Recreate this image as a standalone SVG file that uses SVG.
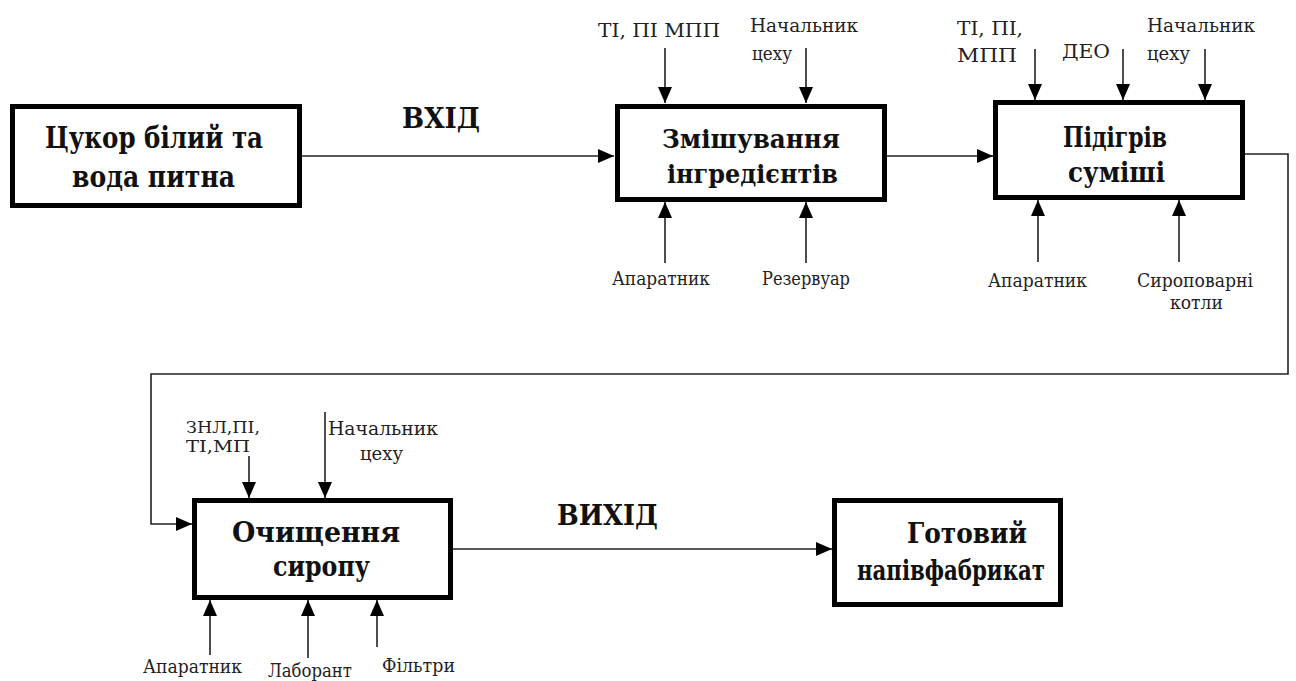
<svg xmlns="http://www.w3.org/2000/svg" width="1296" height="681" viewBox="0 0 1296 681">
<style>
text{font-family:"DejaVu Serif",serif;fill:#111}
.box{fill:#fff;stroke:#000;stroke-width:5}
.t30{font-weight:bold;font-size:30px}
.t27{font-weight:bold;font-size:27px}
.t26{font-weight:bold;font-size:26px}
.lbl{font-size:19px;fill:#222}
.sm{font-size:16px;fill:#222}
.ln{fill:none;stroke:#222;stroke-width:1.6}
</style>
<defs>
<marker id="arrb" viewBox="0 0 16 14" refX="16" refY="7" markerWidth="16" markerHeight="14" markerUnits="userSpaceOnUse" orient="auto">
<path d="M0,0 L16,7 L0,14 Z" fill="#000"/>
</marker>
</defs>
<g id="connectors">
<line class="ln" x1="302" y1="156" x2="614" y2="156" marker-end="url(#arrb)"/>
<line class="ln" x1="887" y1="156" x2="993" y2="156" marker-end="url(#arrb)"/>
<polyline class="ln" points="1245,154 1288,154 1288,374 151,374 151,524 192,524" marker-end="url(#arrb)"/>
<line class="ln" x1="453" y1="549" x2="832" y2="549" marker-end="url(#arrb)"/>
<line class="ln" x1="665" y1="48" x2="665" y2="103" marker-end="url(#arrb)"/>
<line class="ln" x1="806" y1="48" x2="806" y2="103" marker-end="url(#arrb)"/>
<line class="ln" x1="665" y1="263" x2="665" y2="202" marker-end="url(#arrb)"/>
<line class="ln" x1="806" y1="263" x2="806" y2="202" marker-end="url(#arrb)"/>
<line class="ln" x1="1035" y1="49" x2="1035" y2="100" marker-end="url(#arrb)"/>
<line class="ln" x1="1123" y1="49" x2="1123" y2="100" marker-end="url(#arrb)"/>
<line class="ln" x1="1205" y1="49" x2="1205" y2="100" marker-end="url(#arrb)"/>
<line class="ln" x1="1038" y1="262" x2="1038" y2="200" marker-end="url(#arrb)"/>
<line class="ln" x1="1179" y1="262" x2="1179" y2="200" marker-end="url(#arrb)"/>
<line class="ln" x1="249" y1="456" x2="249" y2="498" marker-end="url(#arrb)"/>
<line class="ln" x1="325" y1="412" x2="325" y2="498" marker-end="url(#arrb)"/>
<line class="ln" x1="210" y1="655" x2="210" y2="600" marker-end="url(#arrb)"/>
<line class="ln" x1="308" y1="658" x2="308" y2="600" marker-end="url(#arrb)"/>
<line class="ln" x1="377" y1="647" x2="377" y2="600" marker-end="url(#arrb)"/>
</g>
<g id="io-labels">
<text class="t27" x="402" y="128" textLength="78" lengthAdjust="spacingAndGlyphs">ВХІД</text>
<text class="t27" x="557" y="525" textLength="101" lengthAdjust="spacingAndGlyphs">ВИХІД</text>
</g>
<g id="node-input">
<rect class="box" x="12.5" y="106.5" width="287" height="99"/>
<text class="t30" x="45" y="148" textLength="218" lengthAdjust="spacingAndGlyphs">Цукор білий та</text>
<text class="t30" x="72" y="187" textLength="163" lengthAdjust="spacingAndGlyphs">вода питна</text>
</g>
<g id="node-mixing">
<rect class="box" x="617.5" y="106.5" width="267" height="93"/>
<text class="t26" x="662" y="148" textLength="178" lengthAdjust="spacingAndGlyphs">Змішування</text>
<text class="t26" x="667" y="183" textLength="171" lengthAdjust="spacingAndGlyphs">інгредієнтів</text>
<text class="lbl" x="598" y="37" textLength="122" lengthAdjust="spacingAndGlyphs">ТІ, ПІ МПП</text>
<text class="lbl" x="750" y="32" textLength="108" lengthAdjust="spacingAndGlyphs">Начальник</text>
<text class="lbl" x="752" y="60" textLength="40" lengthAdjust="spacingAndGlyphs">цеху</text>
<text class="lbl" x="612" y="285" textLength="98" lengthAdjust="spacingAndGlyphs">Апаратник</text>
<text class="lbl" x="762" y="285" textLength="88" lengthAdjust="spacingAndGlyphs">Резервуар</text>
</g>
<g id="node-heating">
<rect class="box" x="995.5" y="102.5" width="247" height="95"/>
<text class="t27" x="1063" y="147" textLength="104" lengthAdjust="spacingAndGlyphs">Підігрів</text>
<text class="t27" x="1068" y="182" textLength="97" lengthAdjust="spacingAndGlyphs">суміші</text>
<text class="lbl" x="957" y="35" textLength="66" lengthAdjust="spacingAndGlyphs">ТІ, ПІ,</text>
<text class="lbl" x="957" y="62" textLength="60" lengthAdjust="spacingAndGlyphs">МПП</text>
<text class="lbl" x="1062" y="58" textLength="48" lengthAdjust="spacingAndGlyphs">ДЕО</text>
<text class="lbl" x="1147" y="32" textLength="108" lengthAdjust="spacingAndGlyphs">Начальник</text>
<text class="lbl" x="1147" y="60" textLength="43" lengthAdjust="spacingAndGlyphs">цеху</text>
<text class="lbl" x="988" y="287" textLength="99" lengthAdjust="spacingAndGlyphs">Апаратник</text>
<text class="lbl" x="1137" y="287" textLength="116" lengthAdjust="spacingAndGlyphs">Сироповарні</text>
<text class="lbl" x="1170" y="309" textLength="53" lengthAdjust="spacingAndGlyphs">котли</text>
</g>
<g id="node-cleaning">
<rect class="box" x="194.5" y="500.5" width="256" height="97"/>
<text class="t27" x="232" y="542" textLength="168" lengthAdjust="spacingAndGlyphs">Очищення</text>
<text class="t27" x="273" y="576" textLength="97" lengthAdjust="spacingAndGlyphs">сиропу</text>
<text class="sm" x="186" y="433" textLength="74" lengthAdjust="spacingAndGlyphs">ЗНЛ,ПІ,</text>
<text class="sm" x="186" y="452" textLength="64" lengthAdjust="spacingAndGlyphs">ТІ,МП</text>
<text class="lbl" x="328" y="435" textLength="110" lengthAdjust="spacingAndGlyphs">Начальник</text>
<text class="lbl" x="360" y="460" textLength="43" lengthAdjust="spacingAndGlyphs">цеху</text>
<text class="lbl" x="143" y="673" textLength="99" lengthAdjust="spacingAndGlyphs">Апаратник</text>
<text class="lbl" x="268" y="677" textLength="84" lengthAdjust="spacingAndGlyphs">Лаборант</text>
<text class="lbl" x="382" y="672" textLength="73" lengthAdjust="spacingAndGlyphs">Фільтри</text>
</g>
<g id="node-output">
<rect class="box" x="834.5" y="500.5" width="226" height="104"/>
<text class="t27" x="907" y="543" textLength="120" lengthAdjust="spacingAndGlyphs">Готовий</text>
<text class="t27" x="857" y="580" textLength="188" lengthAdjust="spacingAndGlyphs">напівфабрикат</text>
</g>
</svg>
